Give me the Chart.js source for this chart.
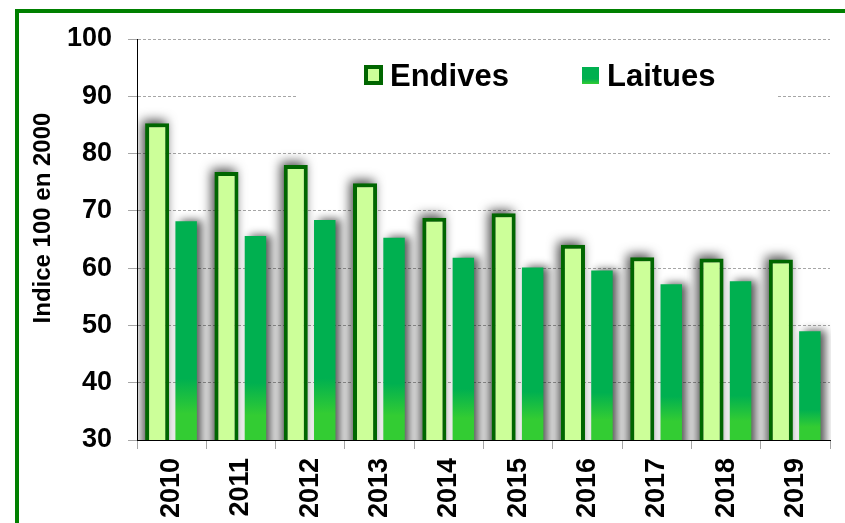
<!DOCTYPE html>
<html>
<head>
<meta charset="utf-8">
<script src="https://cdn.jsdelivr.net/npm/chart.js@4/dist/chart.umd.min.js"></script>
<style>
  html, body { margin: 0; padding: 0; background: #fff; }
  #wrap { position: relative; width: 845px; height: 523px; }
</style>
</head>
<body>
<div id="wrap"><canvas id="c" width="845" height="523"></canvas></div>
<script>
const categories = ['2010','2011','2012','2013','2014','2015','2016','2017','2018','2019'];
const endives = [85.3, 76.8, 78.0, 74.8, 68.8, 69.6, 64.1, 61.9, 61.7, 61.5];
const laitues = [68.2, 65.6, 68.4, 65.3, 61.8, 60.1, 59.6, 57.2, 57.7, 49.0];
const yTicks = [30, 40, 50, 60, 70, 80, 90, 100];
const seriesNames = ['Endives', 'Laitues'];
const yTitle = 'Indice 100 en 2000';

const FONT = "'Liberation Sans', Arial, Helvetica, sans-serif";
const ENDIVE_FILL = '#CCFF99', ENDIVE_BORDER = '#006600';
const LAITUE_TOP = '#00B050', LAITUE_BOTTOM = '#33CC33';

function laitueGradient(c) {
  const chart = c.chart;
  const area = chart.chartArea;
  if (!area || c.type !== 'data' || !chart.scales.y) return LAITUE_TOP;
  const top = chart.scales.y.getPixelForValue(c.raw);
  const g = chart.ctx.createLinearGradient(0, top, 0, area.bottom);
  g.addColorStop(0, LAITUE_TOP);
  g.addColorStop(0.72, LAITUE_TOP);
  g.addColorStop(0.88, LAITUE_BOTTOM);
  g.addColorStop(1, LAITUE_BOTTOM);
  return g;
}

const shadowCfg = [
  { dx: -3, dy: -3, blur: 11, color: 'rgba(0,0,0,0.7)' },
  { dx: 5, dy: -1, blur: 9, color: 'rgba(0,0,0,0.65)' }
];

const decor = {
  id: 'decor',
  beforeDraw(chart) {
    const ctx = chart.ctx;
    ctx.save();
    ctx.fillStyle = '#008000';
    ctx.fillRect(15, 9, 4, 523);
    ctx.fillRect(15, 9, 845, 4);
    ctx.restore();
  },
  beforeDatasetsDraw(chart) {
    const ctx = chart.ctx, a = chart.chartArea;
    ctx.save();
    ctx.fillStyle = '#fff';
    ctx.fillRect(297, 46, 481, 100);
    ctx.restore();
    ctx.save();
    ctx.beginPath();
    ctx.rect(a.left + 1, a.top - 30, a.right - a.left, a.bottom - a.top + 30);
    ctx.clip();
    chart.data.datasets.forEach((ds, i) => {
      const meta = chart.getDatasetMeta(i);
      const s = shadowCfg[i];
      meta.data.forEach(el => {
        const p = el.getProps(['x', 'y', 'base', 'width'], true);
        ctx.save();
        ctx.shadowColor = s.color;
        ctx.shadowBlur = s.blur;
        ctx.shadowOffsetX = 10000 + s.dx;
        ctx.shadowOffsetY = s.dy;
        ctx.fillStyle = '#000';
        ctx.fillRect(p.x - p.width / 2 - 10000, p.y, p.width, p.base - p.y);
        ctx.restore();
      });
    });
    ctx.restore();
  },
  afterDatasetsDraw(chart) {
    const ctx = chart.ctx;
    ctx.save();
    ctx.fillStyle = ENDIVE_BORDER;
    ctx.fillRect(364, 65, 19, 20);
    ctx.fillStyle = ENDIVE_FILL;
    ctx.fillRect(368, 69, 11, 12);
    const g = ctx.createLinearGradient(0, 67, 0, 84);
    g.addColorStop(0, LAITUE_TOP);
    g.addColorStop(0.7, LAITUE_TOP);
    g.addColorStop(1, LAITUE_BOTTOM);
    ctx.fillStyle = g;
    ctx.fillRect(582, 67, 17, 17);
    ctx.fillStyle = '#000';
    ctx.font = 'bold 31px ' + FONT;
    ctx.textBaseline = 'alphabetic';
    ctx.textAlign = 'left';
    ctx.fillText(chart.data.datasets[0].label, 390, 86);
    ctx.fillText(chart.data.datasets[1].label, 607, 86);
    ctx.restore();
  },
  afterDraw(chart) {
    const ctx = chart.ctx;
    ctx.save();
    ctx.translate(43, 218);
    ctx.rotate(-Math.PI / 2);
    ctx.fillStyle = '#000';
    ctx.font = 'bold 24px ' + FONT;
    ctx.textAlign = 'center';
    ctx.textBaseline = 'middle';
    ctx.fillText(yTitle, 0, 0);
    ctx.restore();
  }
};

new Chart(document.getElementById('c'), {
  type: 'bar',
  data: {
    labels: categories,
    datasets: [
      {
        label: seriesNames[0],
        data: endives,
        backgroundColor: ENDIVE_FILL,
        borderColor: ENDIVE_BORDER,
        borderWidth: 4,
        borderSkipped: false,
        categoryPercentage: 0.837,
        barPercentage: 0.83
      },
      {
        label: seriesNames[1],
        data: laitues,
        backgroundColor: laitueGradient,
        borderWidth: 0,
        categoryPercentage: 0.837,
        barPercentage: 0.74
      }
    ]
  },
  options: {
    responsive: false,
    maintainAspectRatio: false,
    animation: false,
    devicePixelRatio: 1,
    layout: { padding: { left: 20, top: 39, right: 15, bottom: 0 } },
    plugins: {
      legend: { display: false },
      tooltip: { enabled: false },
      title: { display: false }
    },
    scales: {
      x: {
        offset: true,
        grid: {
          display: true,
          offset: true,
          drawOnChartArea: false,
          drawTicks: true,
          tickLength: 9,
          tickColor: '#A6A6A6'
        },
        border: { display: true, color: '#000', width: 1 },
        ticks: {
          autoSkip: false,
          minRotation: 90,
          maxRotation: 90,
          padding: 9,
          color: '#000',
          font: { family: FONT, size: 27, weight: 'bold' }
        },
        afterFit(scale) { scale.height = 83; }
      },
      y: {
        min: 30,
        max: 100,
        afterBuildTicks(scale) { scale.ticks = yTicks.map(v => ({ value: v })); },
        grid: {
          color: '#A6A6A6',
          lineWidth: 1,
          tickLength: 9,
          tickColor: '#A6A6A6',
          tickBorderDash: []
        },
        border: { display: true, color: '#000', width: 1, dash: [3, 2] },
        ticks: {
          padding: 16,
          color: '#000',
          font: { family: FONT, size: 27, weight: 'bold' }
        },
        afterFit(scale) { scale.width = 117; }
      }
    }
  },
  plugins: [decor]
});
</script>
</body>
</html>
